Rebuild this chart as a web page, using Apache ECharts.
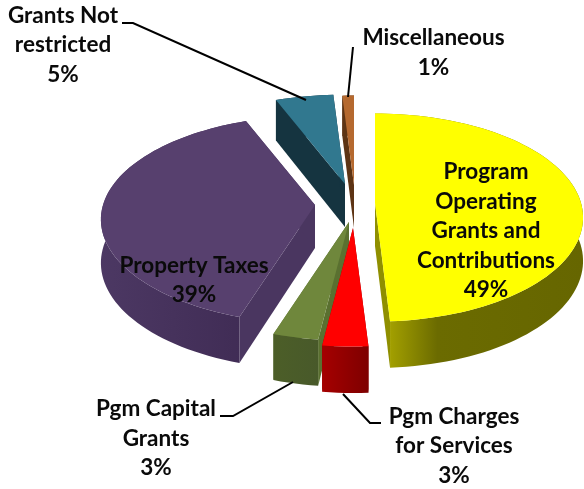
<!DOCTYPE html>
<html>
<head>
<meta charset="utf-8">
<style>html,body{margin:0;padding:0;background:#fff}#c{width:584px;height:489px}</style>
<script src="https://cdn.jsdelivr.net/npm/echarts@6/dist/echarts.min.js"></script>
</head>
<body>
<div id="c"></div>
<script>
// Data (clockwise from 12 o'clock)
var categories = ['Program\nOperating\nGrants and\nContributions', 'Pgm Charges\nfor Services', 'Pgm Capital\nGrants', 'Property Taxes', 'Grants Not\nrestricted', 'Miscellaneous'];
var shares = [49, 3, 3, 39, 5, 1];

// Styling and layout
var topColors = ['#ffff00', '#ff0000', '#6f873c', '#57406e', '#31788f', '#b5692f'];
var edgeColors = ['#8f8f00', '#8b0000', '#5a7030', '#4a3660', '#153440', '#5d3414'];
var rimStops = [
  [[0, '#b4b000'], [0.3, '#6b6b00'], [1, '#666600']],
  [[0, '#a50000'], [1, '#7e0000']],
  [[0, '#4c5e28'], [1, '#48592a']],
  [[0, '#4c3863'], [1, '#402c55']],
  [[0, '#153440'], [1, '#153440']],
  [[0, '#5d3414'], [1, '#5d3414']]
];
var apexes = [[375, 203], [353, 228], [349, 222], [315, 205], [345, 184], [354, 185]];
var radiusX = [206, 212, 212, 212, 212, 212];
var paintOrder = [3, 5, 4, 2, 1, 0];
var labelPos = [[486, 231], [454, 446], [156, 438.5], [194, 280], [63, 45], [433.5, 52.5]];
var leaders = [
  null,
  [[343, 394], [370, 423], [381, 423]],
  [[293, 382], [233, 416], [220, 416]],
  null,
  [[306, 100], [133, 23], [122, 23]],
  [[348, 97], [353, 47]]
];
var RY = 102, PERSP = 0.14, DEPTH = 43;

function project(apex, rx, deg) {
  var a = deg * Math.PI / 180, u = Math.sin(a), v = Math.cos(a);
  var s = 1 / (1 + PERSP * v);
  return { x: apex[0] + rx * u * s, y: apex[1] - RY * v * s, s: s };
}
function down(p, s) { return [p[0], p[1] + DEPTH * Math.sqrt(s)]; }

var total = shares.reduce(function (a, b) { return a + b; }, 0);

function renderItem(params, api) {
  var i = params.dataIndex;
  var start = 0;
  for (var k = 0; k < i; k++) start += shares[k];
  var a0 = start / total * 360, a1 = (start + api.value(0)) / total * 360;
  var apex = apexes[i], base = paintOrder[i] * 10 + 1;
  var rim = [], steps = Math.max(2, Math.ceil((a1 - a0) / 2));
  for (var j = 0; j <= steps; j++) rim.push(project(apex, radiusX[i], a0 + (a1 - a0) * j / steps));
  var topPts = [apex].concat(rim.map(function (p) { return [p.x, p.y]; }));
  var apexDown = down(apex, 1);
  var first = rim[0], last = rim[rim.length - 1];
  var wallPts = rim.map(function (p) { return [p.x, p.y]; })
    .concat(rim.slice().reverse().map(function (p) { return down([p.x, p.y], p.s); }));
  var stops = rimStops[i].map(function (c) { return { offset: c[0], color: c[1] }; });
  var kids = [
    { type: 'polygon', z2: base, shape: { points: [apex, [first.x, first.y], down([first.x, first.y], first.s), apexDown] }, style: { fill: edgeColors[i] } },
    { type: 'polygon', z2: base, shape: { points: [apex, [last.x, last.y], down([last.x, last.y], last.s), apexDown] }, style: { fill: edgeColors[i] } },
    { type: 'polygon', z2: base + 1, shape: { points: wallPts }, style: { fill: { type: 'linear', x: 0, y: 0, x2: 1, y2: 0, colorStops: stops } } },
    { type: 'polygon', z2: base + 2, shape: { points: topPts }, style: { fill: topColors[i] } },
    { type: 'text', z2: 100, style: {
      x: labelPos[i][0], y: labelPos[i][1],
      text: categories[i] + '\n' + api.value(0) + '%',
      font: 'bold 22.5px Lato', fill: '#0a0a0a', align: 'center', verticalAlign: 'middle', lineHeight: 29.5
    } }
  ];
  if (leaders[i]) kids.push({ type: 'polyline', z2: 99, shape: { points: leaders[i] }, style: { fill: null, stroke: '#000', lineWidth: 2 } });
  return { type: 'group', children: kids };
}

var chart = echarts.init(document.getElementById('c'));
chart.setOption({
  animation: false,
  backgroundColor: '#fff',
  series: [{
    type: 'custom',
    coordinateSystem: 'none',
    renderItem: renderItem,
    clip: false,
    data: shares.map(function (v) { return [v]; })
  }]
});
</script>
</body>
</html>
